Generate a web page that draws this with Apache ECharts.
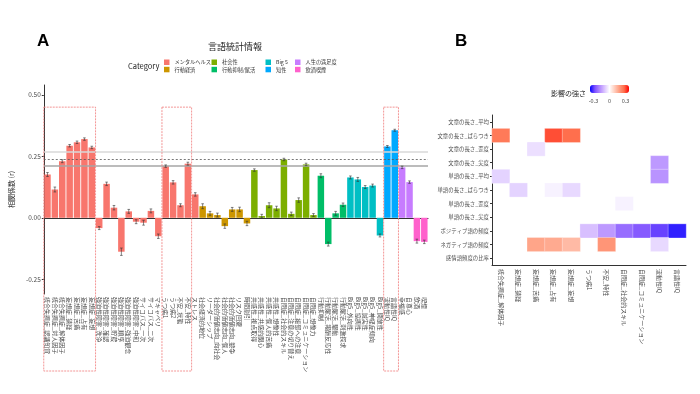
<!DOCTYPE html>
<html><head><meta charset="utf-8">
<script src="https://cdn.jsdelivr.net/npm/echarts@6/dist/echarts.min.js"></script>
<style>html,body{margin:0;padding:0;background:#fff}#c{width:700px;height:394px}</style>
</head><body><div id="c"></div>
<script>
// ---------- Panel A data ----------
const categoriesA = [
 '統合失調症_認識知覚','統合失調症_対人因子','統合失調症_解体因子','妄想症_猜疑','妄想症_苦痛','妄想症_占有','妄想症_妄想',
 '強迫性障害_洗浄','強迫性障害_確認','強迫性障害_貯蔵','強迫性障害_順序','強迫性障害_強迫観念','強迫性障害_中和','サイコパス_一次','サイコパス_二次','マキャベリ',
 'うつ病1','うつ病2','不安_状態','不安_特性','ストレス',
 '社会経済的地位','リーダーシップ','社会的価値志向_向社会','社会的価値志向_個人','社会的価値志向_競争','リスク回避','時間割引',
 '共感性_視点取得','共感性_共感的関心','共感性_個人的苦痛','共感性_想像性','自閉症_社会的スキル','自閉症_注意の切り替え','自閉症_細部への注意','自閉症_コミュニケーション','自閉症_想像力',
 '行動抑制','行動賦活_報酬反応性','行動賦活_駆動','行動賦活_刺激探求',
 'Big5_外向性','Big5_協調性','Big5_誠実性','Big5_神経症傾向','Big5_開放性',
 '流動性IQ','言語性IQ',
 '幸福感','自尊心',
 '飲酒','喫煙'
];
const valuesA = [
 0.176,0.115,0.230,0.293,0.307,0.320,0.286,
 -0.042,0.138,0.041,-0.138,0.026,-0.016,-0.020,0.028,-0.075,
 0.210,0.144,0.051,0.220,0.095,
 0.047,0.018,0.011,-0.034,0.034,0.034,-0.023,
 0.194,0.007,0.051,0.038,0.237,0.016,0.072,0.217,0.011,
 0.171,-0.107,0.018,0.053,
 0.164,0.156,0.125,0.131,-0.072,
 0.290,0.356,
 0.205,0.145,
 -0.095,-0.098
];
const errorsA = [
 0.008,0.010,0.006,0.005,0.005,0.005,0.005,
 0.006,0.007,0.009,0.015,0.008,0.008,0.010,0.008,0.009,
 0.005,0.007,0.006,0.006,0.007,
 0.010,0.008,0.008,0.009,0.008,0.009,0.009,
 0.005,0.007,0.010,0.009,0.005,0.007,0.009,0.005,0.006,
 0.008,0.008,0.008,0.007,
 0.006,0.008,0.006,0.006,0.006,
 0.004,0.004,
 0.005,0.005,
 0.008,0.007
];
const groupNames = ['メンタルヘルス','行動経済','社会性','行動抑制/賦活','Big 5','知性','人生の満足度','飲酒喫煙'];
const groupSizes = [21,7,9,4,5,2,2,2];
const groupColors = ['#F8766D','#CD9600','#7CAE00','#00BE67','#00BFC4','#00A9FF','#C77CFF','#FF61CC'];
const refLines = [0.271, 0.237, 0.210];
const highlightRanges = [[0,6],[16,19],[46,47]];
const highlightTop = 0.45;

// ---------- Panel B data ----------
const heatRows = ['文章の長さ_平均','文章の長さ_ばらつき','文章の長さ_歪度','文章の長さ_尖度','単語の長さ_平均','単語の長さ_ばらつき','単語の長さ_歪度','単語の長さ_尖度','ポジティブ語の頻度','ネガティブ語の頻度','感情語頻度の比率'];
const heatCols = ['統合失調症_解体因子','妄想症_猜疑','妄想症_苦痛','妄想症_占有','妄想症_妄想','うつ病1','不安_特性','自閉症_社会的スキル','自閉症_コミュニケーション','流動性IQ','言語性IQ'];
const heatValues = [
 [null,null,null,null,null,null,null,null,null,null,null],
 [0.25,null,null,0.30,0.27,null,null,null,null,null,null],
 [null,null,-0.05,null,null,null,null,null,null,null,null],
 [null,null,null,null,null,null,null,null,null,-0.16,null],
 [-0.07,null,null,null,null,null,null,null,null,-0.17,null],
 [null,-0.07,null,-0.02,-0.06,null,null,null,null,null,null],
 [null,null,null,null,null,null,null,-0.02,null,null,null],
 [null,null,null,null,null,null,null,null,null,null,null],
 [null,null,null,null,null,-0.10,-0.16,-0.23,-0.26,-0.29,-0.33],
 [null,null,0.17,0.16,0.13,null,0.20,null,null,-0.06,null],
 [null,null,null,null,null,null,null,null,null,null,null]
];
const heatMin = -0.365, heatMax = 0.365;
const heatTicks = [-0.3, 0, 0.3];

// ---------- build ----------
const FONT = '"Noto Sans CJK JP","Noto Sans",sans-serif';
const groupOf = [];
groupSizes.forEach((n,g)=>{ for(let k=0;k<n;k++) groupOf.push(g); });

const chart = echarts.init(document.getElementById('c'), null, {renderer:'canvas'});

const barSeries = groupNames.map((name,g)=>({
  name, type:'bar', xAxisIndex:0, yAxisIndex:0,
  data: valuesA.map((v,i)=> groupOf[i]===g ? v : null),
  barWidth:'88%', barGap:'-100%',
  itemStyle:{color:groupColors[g]}, silent:true
}));

const errSeries = {
  type:'custom', xAxisIndex:0, yAxisIndex:0, silent:true, z:5,
  data: valuesA.map((v,i)=>[i, v, errorsA[i]]),
  encode:{x:0, y:1},
  renderItem:(params, api)=>{
    const x = api.value(0), v = api.value(1), e = api.value(2);
    const hi = api.coord([x, v+e]), lo = api.coord([x, v-e]);
    const st = {stroke:'#333', lineWidth:0.6};
    return {type:'group', children:[
      {type:'line', shape:{x1:hi[0],y1:hi[1],x2:lo[0],y2:lo[1]}, style:st},
      {type:'line', shape:{x1:hi[0]-1.3,y1:hi[1],x2:hi[0]+1.3,y2:hi[1]}, style:st},
      {type:'line', shape:{x1:lo[0]-1.3,y1:lo[1],x2:lo[0]+1.3,y2:lo[1]}, style:st}
    ]};
  },
  markLine:{
    silent:true, symbol:['none','none'], label:{show:false},
    data:[
      {yAxis:refLines[0], lineStyle:{color:'#D9D9D9', width:1.5, type:'solid'}},
      {yAxis:refLines[1], lineStyle:{color:'#555', width:0.8, type:[2,2]}},
      {yAxis:refLines[2], lineStyle:{color:'#A6A6A6', width:1.5, type:'solid'}}
    ]
  }
};

const heatData = [];
heatValues.forEach((row,r)=>row.forEach((v,c)=>{ if(v!==null) heatData.push([c,r,v]); }));

const heatSeries = {
  type:'heatmap', xAxisIndex:1, yAxisIndex:1, data:heatData, silent:true,
  itemStyle:{borderColor:'#fff', borderWidth:0.3}
};

const legendBase = {orient:'vertical', itemWidth:5.5, itemHeight:5.5, itemGap:1.8, padding:0, icon:'rect',
  textStyle:{fontSize:5.2, color:'#333', fontFamily:FONT}, selectedMode:false};

const axisTxt = {color:'#4D4D4D', fontFamily:FONT};
const series = barSeries.concat([errSeries, heatSeries]);

const option = {
  animation:false,
  textStyle:{fontFamily:FONT},
  grid:[
    {left:40, top:85, width:388, height:209},
    {left:492, top:115, width:194, height:150}
  ],
  legend:[
    Object.assign({left:164, top:59.5, data:[groupNames[0],groupNames[1]]}, legendBase),
    Object.assign({left:211.5, top:59.5, data:[groupNames[2],groupNames[3]]}, legendBase),
    Object.assign({left:265.5, top:59.5, data:[groupNames[4],groupNames[5]]}, legendBase),
    Object.assign({left:295, top:59.5, data:[groupNames[6],groupNames[7]]}, legendBase)
  ],
  xAxis:[
    {type:'category', gridIndex:0, data:categoriesA,
     axisLine:{lineStyle:{color:'#333', width:1}},
     axisTick:{alignWithLabel:true, length:2, lineStyle:{color:'#333'}},
     axisLabel:Object.assign({interval:0, rotate:-90, fontSize:6, margin:3}, axisTxt)},
    {type:'category', gridIndex:1, data:heatCols,
     axisLine:{lineStyle:{color:'#333', width:1}},
     axisTick:{alignWithLabel:true, length:2, lineStyle:{color:'#333'}},
     axisLabel:Object.assign({interval:0, rotate:-90, fontSize:6, margin:4}, axisTxt),
     splitLine:{show:false}}
  ],
  yAxis:[
    {type:'value', gridIndex:0, min:-0.31, max:0.54,
     name:'相関係数 (r)', nameLocation:'middle', nameGap:27, nameRotate:90,
     nameTextStyle:{fontSize:7, color:'#222', fontFamily:FONT},
     axisLine:{show:true, lineStyle:{color:'#333', width:1}},
     axisTick:{show:true, length:2, customValues:[-0.25,0,0.25,0.5], lineStyle:{color:'#333'}},
     axisLabel:Object.assign({fontSize:6.5, margin:3, customValues:[-0.25,0,0.25,0.5], formatter:v=>v.toFixed(2)}, axisTxt),
     splitLine:{show:false}},
    {type:'category', gridIndex:1, data:heatRows, inverse:true,
     axisLine:{show:true, lineStyle:{color:'#333', width:1}},
     axisTick:{show:true, alignWithLabel:true, length:2, lineStyle:{color:'#333'}},
     axisLabel:Object.assign({interval:0, fontSize:5.4, margin:3}, axisTxt),
     splitLine:{show:false}}
  ],
  visualMap:{
    type:'continuous', min:heatMin, max:heatMax, seriesIndex:series.length-1,
    orient:'horizontal', left:590, top:85, itemWidth:8, itemHeight:39, padding:0,
    calculable:false, realtime:false, hoverLink:false, showLabel:false, text:null,
    inRange:{color:['#0000FF','#7E51FF','#B38BFF','#DCC5FF','#FFFFFF','#FFCFBF','#FF9E81','#FF6D4B','#FF0000']}
  },
  series
};
chart.setOption(option);

// annotations & texts
const gfx = [];
gfx.push({type:'text', left:37, top:33, style:{text:'A', font:'bold 17px "Liberation Sans",Arial,sans-serif', fill:'#000'}});
gfx.push({type:'text', left:455, top:33, style:{text:'B', font:'bold 17px "Liberation Sans",Arial,sans-serif', fill:'#000'}});
gfx.push({type:'text', x:235, y:47, style:{text:'言語統計情報', font:'9px '+FONT, fill:'#222', align:'center', verticalAlign:'middle'}});
gfx.push({type:'text', x:128, y:66.5, style:{text:'Category', font:'7.5px '+FONT, fill:'#222', align:'left', verticalAlign:'middle'}});
gfx.push({type:'text', x:586, y:93, style:{text:'影響の強さ', font:'7px '+FONT, fill:'#222', align:'right', verticalAlign:'middle'}});
heatTicks.forEach(t=>{
  const x = 590 + (t-heatMin)/(heatMax-heatMin)*39;
  gfx.push({type:'text', x, y:100.5, style:{text:String(t), font:'5.5px '+FONT, fill:'#4D4D4D', align:'center', verticalAlign:'middle'}});
});
const band = 388/categoriesA.length;
highlightRanges.forEach(([a,b])=>{
  const pa = chart.convertToPixel({gridIndex:0}, [a, highlightTop]);
  const pb = chart.convertToPixel({gridIndex:0}, [b, highlightTop]);
  const x0 = pa[0]-band/2, x1 = pb[0]+band/2;
  gfx.push({type:'rect', shape:{x:x0, y:pa[1], width:x1-x0, height:371-pa[1]},
    style:{fill:'none', stroke:'#F28A8A', lineWidth:0.9, lineDash:[2,1]}, z:10, silent:true});
});
chart.setOption({graphic:gfx});
</script>
</body></html>
